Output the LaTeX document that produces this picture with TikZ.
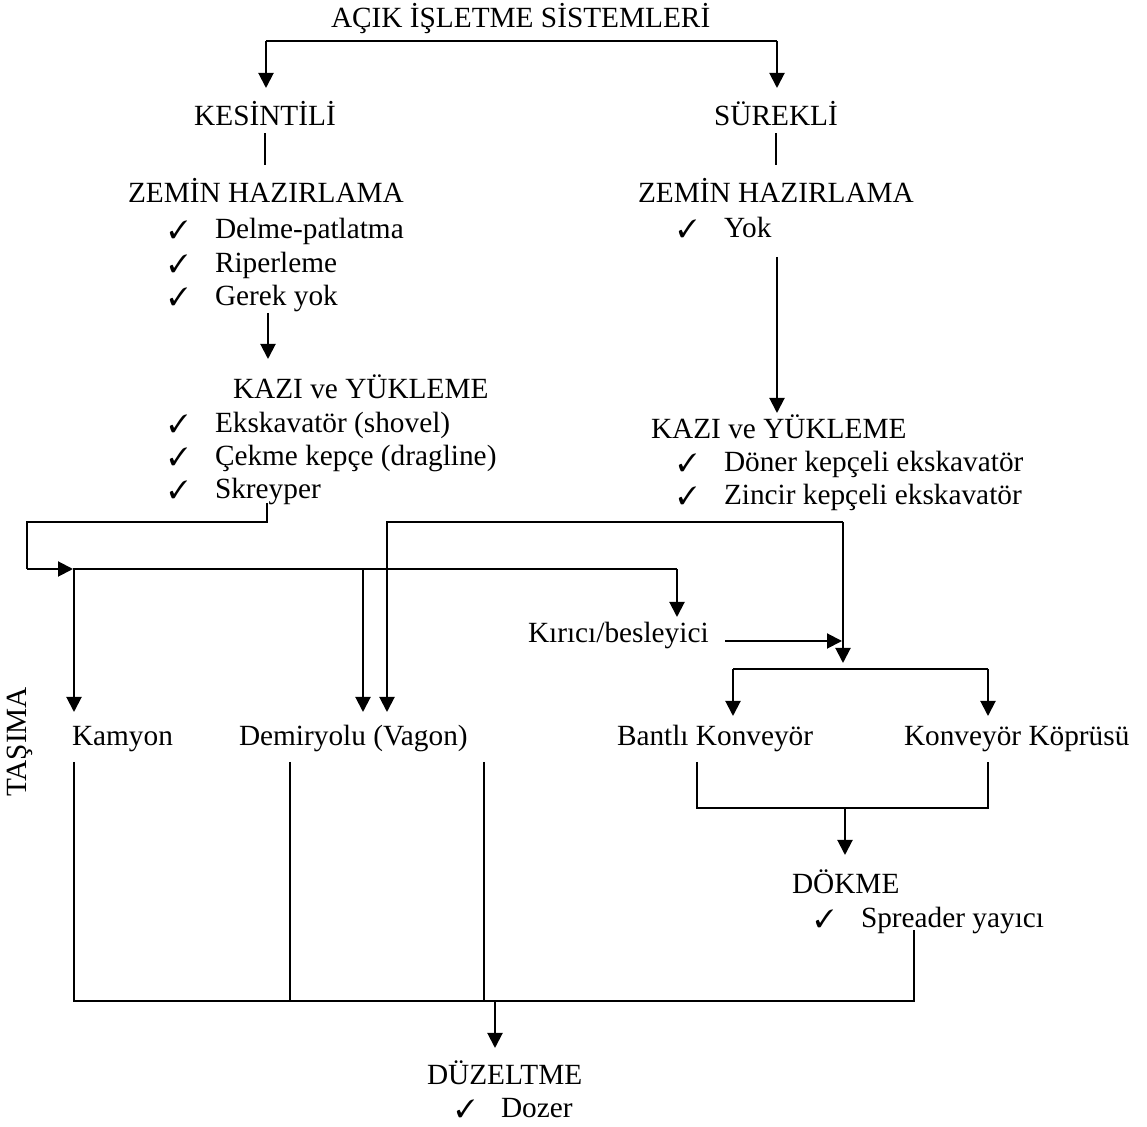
\documentclass[tikz,border=0pt]{standalone}
\usepackage{fontspec}
\setmainfont{Liberation Serif}
\usepackage{pifont}
\usetikzlibrary{arrows.meta}

% check mark used in front of every list entry
\newcommand\tick{{\fontsize{12.5pt}{12.5pt}\selectfont\ding{51}}}
\newcommand\itm[2][23pt]{\makebox[#1][l]{\tick}#2}

\begin{document}
\begin{tikzpicture}[x=0.5pt,y=-0.5pt,
  every node/.style={inner sep=0pt, outer sep=0pt,
                     font=\fontsize{14.65pt}{17pt}\selectfont},
  lbl/.style={anchor=base west},
  ctr/.style={anchor=base},
  wire/.style={line width=1pt},
  arr/.style={wire,-{Triangle[length=7.5pt,width=7.5pt]}}
]
\useasboundingbox (0,0) rectangle (1147,1127);

% ---------- texts ----------
\node[lbl] (title) at (331,28) {AÇIK İŞLETME SİSTEMLERİ};
\node[ctr] (kes) at (265,126) {KESİNTİLİ};
\node[ctr] (sur) at (776,126) {SÜREKLİ};

\node[lbl] (zl)  at (128,203) {ZEMİN HAZIRLAMA};
\node[lbl] (zl1) at (169,239) {\itm{Delme-patlatma}};
\node[lbl] (zl2) at (169,273) {\itm{Riperleme}};
\node[lbl] (zl3) at (169,306) {\itm{Gerek yok}};

\node[lbl] (zr)  at (638,203) {ZEMİN HAZIRLAMA};
\node[lbl] (zr1) at (678,238) {\itm{Yok}};

\node[lbl] (kl)  at (233,399) {KAZI ve YÜKLEME};
\node[lbl] (kl1) at (169,433) {\itm{Ekskavatör (shovel)}};
\node[lbl] (kl2) at (169,466) {\itm{Çekme kepçe (dragline)}};
\node[lbl] (kl3) at (169,499) {\itm{Skreyper}};

\node[lbl] (kr)  at (651,439) {KAZI ve YÜKLEME};
\node[lbl] (kr1) at (678,472) {\itm{Döner kepçeli ekskavatör}};
\node[lbl] (kr2) at (678,505) {\itm{Zincir kepçeli ekskavatör}};

\node[lbl] (kirici) at (528,643) {Kırıcı/besleyici};

\node[anchor=center, rotate=90] (tasima) at (20,742) {TAŞIMA};
\node[lbl] (kamyon) at (72,746)  {Kamyon};
\node[lbl] (demir)  at (239,746) {Demiryolu (Vagon)};
\node[lbl] (bant)   at (617,746) {Bantlı Konveyör};
\node[lbl] (kopru)  at (904,746) {Konveyör Köprüsü};

\node[lbl] (dokme)  at (792,894) {DÖKME};
\node[lbl] (dok1)   at (815,928) {\itm{Spreader yayıcı}};

\node[lbl] (duz)    at (427,1085) {DÜZELTME};
\node[lbl] (duz1)   at (456,1118) {\itm[22.5pt]{Dozer}};

% ---------- junction points ----------
\coordinate (tL) at (266,41);
\coordinate (tR) at (777,41);
\coordinate (sk) at (267,503);
\coordinate (skA) at (267,522);
\coordinate (skB) at (27,522);
\coordinate (skC) at (27,569);
\coordinate (bus) at (73,569);
\coordinate (busK) at (677,569);
\coordinate (zc) at (843,522);
\coordinate (zcL) at (387,522);
\coordinate (cv) at (733,669);
\coordinate (cvR) at (988,669);
\coordinate (bL) at (697,808);
\coordinate (bR) at (988,808);
\coordinate (bM) at (845,808);
\coordinate (gL) at (74,1001);
\coordinate (gR) at (914,1001);
\coordinate (gM) at (495,1001);

% ---------- connectors ----------
% top split
\draw[wire] (tL) -- (tR);
\draw[arr] (tL) -- (tL |- 0,88);
\draw[arr] (tR) -- (tR |- 0,88);
\draw[wire] (kes.south) ++(0,7) -- (265,165);
\draw[wire] (sur.south) ++(0,7) -- (776,165);

% preparation to excavation
\draw[arr] (268,313) -- (268,359);
\draw[arr] (777,257) -- (777,413);

% discontinuous loading to the haulage line
\draw[wire] (sk) -- (skA) -- (skB) -- (skC);
\draw[arr] (skC) -- (bus);
\draw[wire] (bus) -- (busK);
\draw[arr] (busK) -- (busK |- 0,617);
\draw[arr] (74,569) -- (74,712);
\draw[arr] (363,569) -- (363,712);

% continuous loading
\draw[arr] (zc) -- (zcL) -- (zcL |- 0,712);
\draw[arr] (zc) -- (843,663);
\draw[arr] (725,641) -- (842,641);

% conveyors
\draw[arr] (cv) -- (cv |- 0,716);
\draw[arr] (cvR) -- (cvR |- 0,716);
\draw[wire] (cv) -- (cvR);

\draw[wire] (697,762) -- (bL) -- (bR) -- (988,762);
\draw[arr] (bM) -- (845,855);

% collecting line to levelling
\draw[wire] (74,762) -- (gL) -- (gR) -- (914,930);
\draw[wire] (290,762) -- (290,1001);
\draw[wire] (484,762) -- (484,1001);
\draw[arr] (gM) -- (495,1048);
\end{tikzpicture}
\end{document}
